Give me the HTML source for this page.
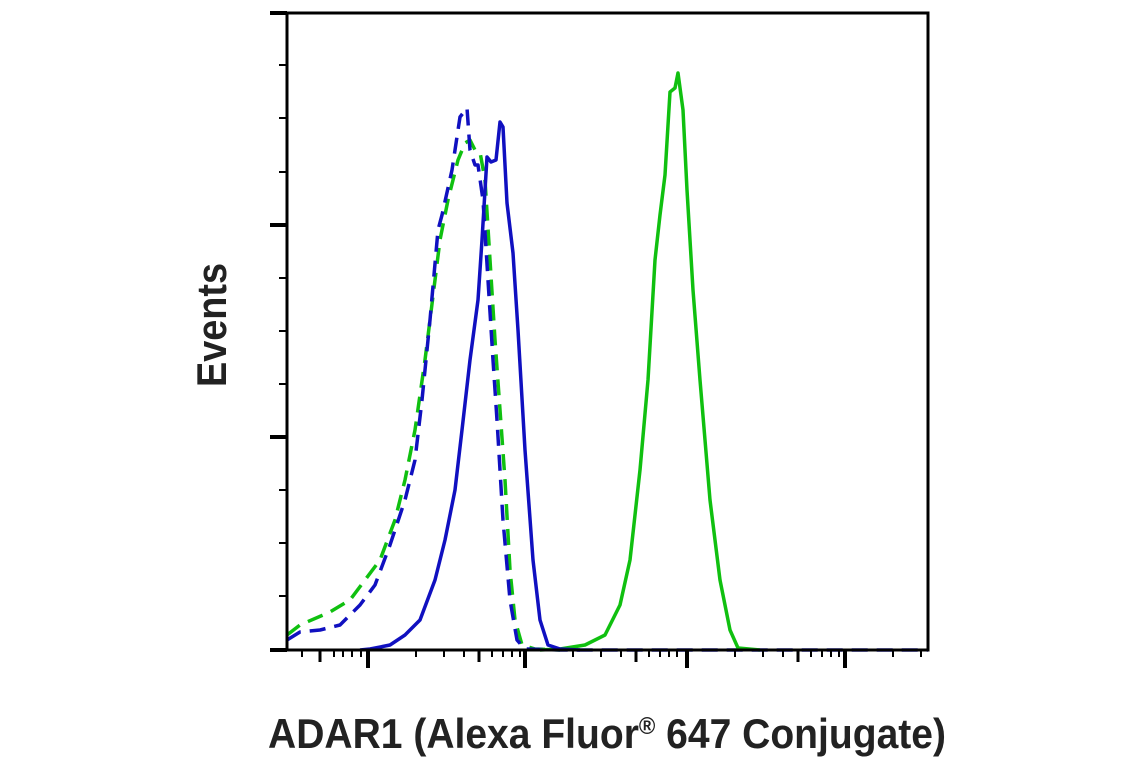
<!DOCTYPE html>
<html><head><meta charset="utf-8"><style>
html,body{margin:0;padding:0;background:#fff;}
svg{display:block;}
text{font-family:"Liberation Sans Narrow","Liberation Sans",sans-serif;font-weight:bold;fill:#222;}
</style></head><body>
<svg width="1141" height="768" viewBox="0 0 1141 768" xmlns="http://www.w3.org/2000/svg">
<g fill="none" stroke-linejoin="round" stroke-width="3.5">
<path stroke="#10c010" stroke-dasharray="16 9" d="M287,635 L300,625 L330,612 L350,600 L365,580 L380,560 L395,520 L405,480 L415,430 L425,360 L435,280 L440,240 L448,200 L458,160 L465,143 L470,140 L475,150 L480,152 L485,180 L490,260 L495,340 L500,410 L505,480 L510,570 L515,620 L522,645 L535,649 L560,650"/>
<path stroke="#1010c0" stroke-dasharray="16 9" d="M287,640 L300,632 L320,630 L340,625 L360,605 L375,585 L390,545 L405,500 L415,460 L422,400 L430,320 L438,230 L442,215 L452,170 L460,117 L467,108 L470,150 L475,165 L478,165 L483,200 L488,280 L493,360 L497,420 L503,520 L510,600 L517,640 L525,649 L560,650 L928,650"/>
<path stroke="#10c010" d="M540,650 L560,649 L585,645 L605,635 L620,605 L630,560 L640,470 L648,380 L655,260 L660,215 L665,175 L670,92 L675,88 L678,73 L683,110 L687,190 L693,290 L700,380 L710,500 L720,580 L730,630 L738,648 L760,650"/>
<path stroke="#1010c0" d="M360,650 L370,649 L390,645 L405,635 L420,620 L435,580 L445,540 L455,490 L462,430 L470,360 L478,300 L482,240 L487,157 L491,162 L496,160 L500,122 L503,127 L507,203 L513,253 L518,330 L525,450 L533,560 L540,620 L548,645 L560,649 L580,650"/>
</g>
<g stroke="#000" fill="none">
<rect x="287" y="13" width="641" height="637" stroke-width="3"/>
<path stroke-width="4" d="M270,13H287M270,225H287M270,437H287M270,650H287"/>
<path stroke-width="2" d="M279,65H287M279,118H287M279,172H287M279,278H287M279,331H287M279,384H287M279,490H287M279,543H287M279,596H287"/>
<path stroke-width="4" d="M368,650V668M525,650V668M687,650V668M845,650V668"/>
<path stroke-width="2" d="M302,650V657M334,650V657M343,650V657M352,650V657M361,650V657
M416,650V657M444,650V657M464,650V657M479,650V657M492,650V657M503,650V657M512,650V657M520,650V657
M573,650V657M601,650V657M621,650V657M636,650V657M649,650V657M660,650V657M669,650V657M677,650V657
M735,650V657M763,650V657M783,650V657M798,650V657M811,650V657M822,650V657M831,650V657M839,650V657
M893,650V657M921,650V657"/>
<path stroke-width="3" d="M320,650V662M479,650V662M636,650V662M798,650V662"/>
</g>
<text x="0" y="0" font-size="42" text-anchor="middle" transform="translate(226,325) rotate(-90)" textLength="124" lengthAdjust="spacingAndGlyphs">Events</text>
<text x="607" y="748" font-size="42" text-anchor="middle" textLength="678" lengthAdjust="spacingAndGlyphs">ADAR1 (Alexa Fluor<tspan font-size="24" dy="-14">®</tspan><tspan dy="14"> 647 Conjugate)</tspan></text>
</svg>
</body></html>
